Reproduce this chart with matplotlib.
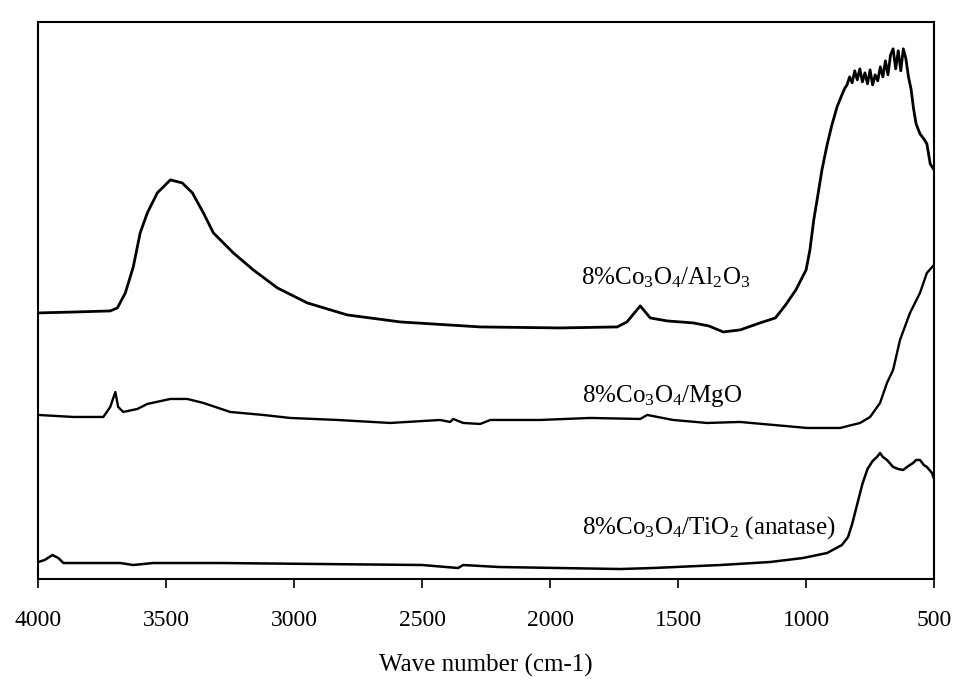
import numpy as np
import matplotlib
matplotlib.use('Agg')
import matplotlib.pyplot as plt

plt.rcParams['font.family'] = ['Liberation Serif', 'DejaVu Serif']
plt.rcParams['mathtext.fontset'] = 'custom'
plt.rcParams['mathtext.rm'] = 'Liberation Serif'
plt.rcParams['mathtext.it'] = 'Liberation Serif:italic'

# FT-IR spectra, absorbance in arbitrary units
wn_al = [4000, 3850, 3719, 3691, 3660, 3629, 3602, 3574, 3535, 3484, 3438, 3398, 3355,
         3316, 3238, 3160, 3066, 2949, 2793, 2586, 2273, 1961, 1738, 1700, 1648, 1609,
         1543, 1441, 1380, 1324, 1258, 1180, 1120, 1080, 1040, 1000, 985, 970, 957, 938,
         918, 899, 879, 860, 850, 840, 830, 820, 810, 800, 790, 780, 770, 760, 750, 740,
         730, 720, 710, 700, 690, 680, 670, 660, 650, 640, 630, 620, 610, 600, 590, 580,
         570, 555, 540, 528, 515, 500]
abs_al = [2.66, 2.67, 2.68, 2.71, 2.86, 3.12, 3.46, 3.66, 3.86, 3.99, 3.96, 3.86, 3.66,
          3.46, 3.26, 3.09, 2.91, 2.76, 2.64, 2.57, 2.52, 2.51, 2.52, 2.57, 2.73, 2.61,
          2.58, 2.56, 2.53, 2.47, 2.49, 2.56, 2.61, 2.74, 2.89, 3.09, 3.29, 3.59, 3.79, 4.09,
          4.34, 4.54, 4.72, 4.84, 4.90, 4.94, 5.02, 4.96, 5.08, 4.99, 5.10, 4.97, 5.06, 4.95,
          5.09, 4.94, 5.04, 4.98, 5.12, 5.02, 5.18, 5.04, 5.24, 5.30, 5.10, 5.28, 5.08, 5.30,
          5.20, 5.02, 4.90, 4.70, 4.55, 4.45, 4.40, 4.35, 4.15, 4.09]

wn_mg = [4000, 3863, 3746, 3719, 3699, 3688, 3668, 3613, 3574, 3484, 3418, 3355, 3250,
         3121, 3016, 2832, 2625, 2430, 2391, 2379, 2340, 2273, 2234, 2039, 1844, 1648,
         1621, 1520, 1387, 1258, 996, 867, 789, 750, 711, 684, 660, 633, 594, 555, 528, 500]
abs_mg = [1.64, 1.62, 1.62, 1.72, 1.87, 1.72, 1.67, 1.70, 1.75, 1.80, 1.80, 1.76, 1.67,
          1.64, 1.61, 1.59, 1.56, 1.59, 1.57, 1.60, 1.56, 1.55, 1.59, 1.59, 1.61, 1.60,
          1.64, 1.59, 1.56, 1.57, 1.51, 1.51, 1.56, 1.62, 1.76, 1.96, 2.09, 2.39, 2.66, 2.86,
          3.06, 3.14]

wn_ti = [4000, 3975, 3945, 3922, 3902, 3680, 3629, 3551, 3289, 2898, 2500, 2360, 2340,
         2200, 1727, 1598, 1336, 1141, 1012, 918, 860, 836, 820, 800, 780, 760, 740, 723,
         711, 700, 684, 670, 660, 640, 621, 600, 582, 570, 555, 540, 528, 508, 500]
abs_ti = [0.17, 0.19, 0.24, 0.21, 0.16, 0.16, 0.14, 0.16, 0.16, 0.15, 0.14, 0.11, 0.14,
          0.12, 0.10, 0.11, 0.14, 0.17, 0.21, 0.26, 0.34, 0.42, 0.55, 0.75, 0.95, 1.10,
          1.18, 1.22, 1.26, 1.22, 1.19, 1.15, 1.12, 1.10, 1.09, 1.13, 1.16, 1.19, 1.19, 1.14,
          1.12, 1.06, 1.00]

labels = ['8%Co$_3$O$_4$/Al$_2$O$_3$', '8%Co$_3$O$_4$/MgO', '8%Co$_3$O$_4$/TiO$_2$ (anatase)']
xticks = [4000, 3500, 3000, 2500, 2000, 1500, 1000, 500]

fig = plt.figure(figsize=(9.58, 6.82), dpi=100)
ax = fig.add_axes([0.040, 0.151, 0.935, 0.817])

ax.plot(wn_al, abs_al, color='black', lw=2.0)
ax.plot(wn_mg, abs_mg, color='black', lw=1.7)
ax.plot(wn_ti, abs_ti, color='black', lw=1.8)

# curve labels
ax.text(1880, 3.01, labels[0], fontsize=18, ha='left', va='center')
ax.text(1876, 1.83, labels[1], fontsize=18, ha='left', va='center')
ax.text(1876, 0.51, labels[2], fontsize=18, ha='left', va='center')

ax.set_xlim(4000, 500)
ax.set_ylim(0, 5.57)
ax.set_xticks(xticks)
ax.set_xticklabels([str(t) for t in xticks])
ax.set_yticks([])
ax.tick_params(axis='x', direction='out', length=6.5, width=1.2, labelsize=17, pad=16)
for sp in ax.spines.values():
    sp.set_linewidth(1.5)
ax.set_xlabel('Wave number (cm-1)', fontsize=18, labelpad=16)

plt.savefig('out.png', dpi=100)
